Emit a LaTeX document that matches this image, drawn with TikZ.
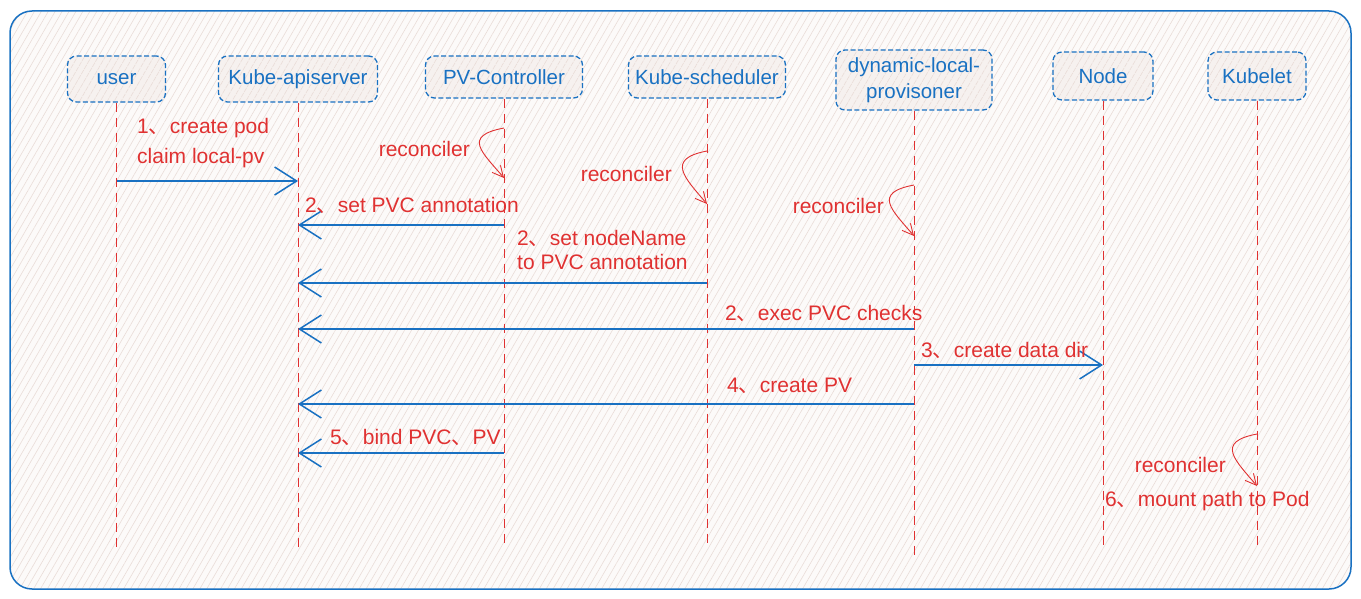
\documentclass[tikz,border=0pt]{standalone}
\usepackage{fontspec}
\setmainfont{Liberation Sans}
\newfontfamily\cjk{Noto Sans CJK SC}
\newcommand{\ideocomma}{{\cjk 、}}
\usetikzlibrary{arrows.meta,patterns.meta}
\definecolor{exblue}{HTML}{1971C2}
\definecolor{exred}{HTML}{E03131}
\definecolor{framebg}{HTML}{FCFAF9}
\definecolor{boxbg}{HTML}{F6F1EF}
\definecolor{hatch}{HTML}{E9DCD7}
\tikzset{
  hatched/.style={preaction={pattern={Lines[angle=60,distance=6pt,line width=.6pt]}, pattern color=hatch}},
  actor/.style={draw=exblue, line width=1.3pt, dash pattern=on 5pt off 2.5pt, rounded corners=9pt,
    preaction={fill=boxbg}, hatched, text=exblue, font=\fontsize{20.5}{26}\selectfont, align=center, inner sep=0pt},
  life/.style={draw=exred, line width=.9pt, dash pattern=on 9pt off 6pt},
  msg/.style={draw=exblue, line width=1.5pt, -{Straight Barb[length=22pt,width=28pt]}},
  selfmsg/.style={draw=exred, line width=.9pt, -{Straight Barb[length=11pt,width=11pt]}},
  msgtext/.style={text=exred, font=\fontsize{21}{30}\selectfont, inner sep=0pt, align=left},
}
\begin{document}
\begin{tikzpicture}[x=1pt,y=-1pt]
\useasboundingbox (0,0) rectangle (1361,599);
\draw[draw=exblue, line width=1.5pt, rounded corners=22pt, preaction={fill=framebg}, hatched] (10,11) rectangle (1351,589);

\node[actor, minimum width=98pt, minimum height=46pt] (user) at (116.5,79) {user};
\node[actor, minimum width=159pt, minimum height=46pt] (api) at (298,79) {Kube-apiserver};
\node[actor, minimum width=157pt, minimum height=42pt] (pvc) at (504,77) {PV-Controller};
\node[actor, minimum width=157pt, minimum height=42pt] (sched) at (707,77) {Kube-scheduler};
\node[actor, minimum width=156pt, minimum height=60pt] (prov) at (914,80) {dynamic-local-\\provisoner};
\node[actor, minimum width=100pt, minimum height=48pt] (knode) at (1103,76) {Node};
\node[actor, minimum width=98pt, minimum height=48pt] (kubelet) at (1257,76) {Kubelet};

\coordinate (user-end) at (user |- 0,548);
\coordinate (api-end) at (api |- 0,548);
\coordinate (pvc-end) at (pvc |- 0,545);
\coordinate (sched-end) at (sched |- 0,545);
\coordinate (prov-end) at (prov |- 0,558);
\coordinate (knode-end) at (knode |- 0,550);
\coordinate (kubelet-end) at (kubelet |- 0,548);
\draw[life] (user) -- (user-end);
\draw[life] (api) -- (api-end);
\draw[life] (pvc) -- (pvc-end);
\draw[life] (sched) -- (sched-end);
\draw[life] (prov) -- (prov-end);
\draw[life] (knode) -- (knode-end);
\draw[life] (kubelet) -- (kubelet-end);

\coordinate (m1-from) at (user |- 0,181);
\coordinate (m1-to) at (api |- 0,181);
\draw[msg] (m1-from) -- (m1-to);
\node[msgtext, anchor=west] (t1) at (137,143) {1\ideocomma create pod\\claim local-pv};

\coordinate (r1-from) at (pvc |- 0,128);
\coordinate (r1-to) at (pvc |- 0,178);
\draw[selfmsg] (r1-from) .. controls +(-42,8) and +(-22,-26) .. (r1-to);
\node[msgtext, anchor=east] (r1) at (470,149) {reconciler};

\coordinate (m2-from) at (pvc |- 0,225);
\coordinate (m2-to) at (api |- 0,225);
\draw[msg] (m2-from) -- (m2-to);
\node[msgtext, anchor=west] (t2) at (305,205) {2\ideocomma set PVC annotation};

\coordinate (r2-from) at (sched |- 0,151);
\coordinate (r2-to) at (sched |- 0,204);
\draw[selfmsg] (r2-from) .. controls +(-42,8) and +(-22,-26) .. (r2-to);
\node[msgtext, anchor=east] (r2) at (672,174) {reconciler};

\coordinate (m3-from) at (sched |- 0,283);
\coordinate (m3-to) at (api |- 0,283);
\draw[msg] (m3-from) -- (m3-to);
\node[msgtext, anchor=west, font=\fontsize{21}{24}\selectfont] (t3) at (517,250) {2\ideocomma set nodeName\\to PVC annotation};

\coordinate (r3-from) at (prov |- 0,185);
\coordinate (r3-to) at (prov |- 0,236);
\draw[selfmsg] (r3-from) .. controls +(-42,8) and +(-22,-26) .. (r3-to);
\node[msgtext, anchor=east] (r3) at (884,206) {reconciler};

\coordinate (m4-from) at (prov |- 0,329);
\coordinate (m4-to) at (api |- 0,329);
\draw[msg] (m4-from) -- (m4-to);
\node[msgtext, anchor=west] (t4) at (725,313) {2\ideocomma exec PVC checks};

\coordinate (m5-from) at (prov |- 0,365);
\coordinate (m5-to) at (knode |- 0,365);
\draw[msg] (m5-from) -- (m5-to);
\node[msgtext, anchor=west] (t5) at (921,350) {3\ideocomma create data dir};

\coordinate (m6-from) at (prov |- 0,404);
\coordinate (m6-to) at (api |- 0,404);
\draw[msg] (m6-from) -- (m6-to);
\node[msgtext, anchor=west] (t6) at (727,386) {4\ideocomma create PV};

\coordinate (m7-from) at (pvc |- 0,453);
\coordinate (m7-to) at (api |- 0,453);
\draw[msg] (m7-from) -- (m7-to);
\node[msgtext, anchor=west] (t7) at (330,437) {5\ideocomma bind PVC\ideocomma PV};

\coordinate (r4-from) at (kubelet |- 0,434);
\coordinate (r4-to) at (kubelet |- 0,486);
\draw[selfmsg] (r4-from) .. controls +(-42,8) and +(-22,-26) .. (r4-to);
\node[msgtext, anchor=east] (r4) at (1226,465) {reconciler};
\node[msgtext, anchor=west] (t8) at (1105,501) {6\ideocomma mount path to Pod};
\end{tikzpicture}
\end{document}
